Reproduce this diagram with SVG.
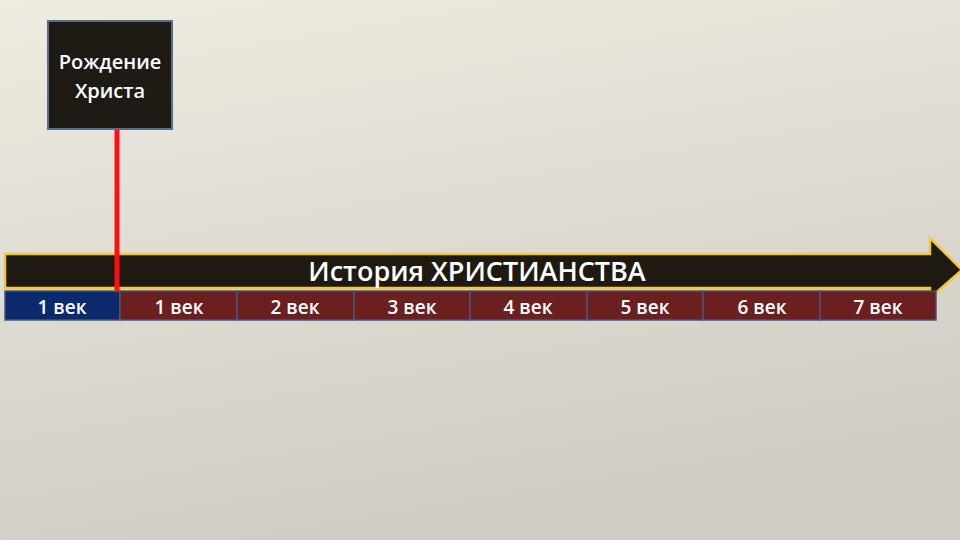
<svg xmlns="http://www.w3.org/2000/svg" width="960" height="540" viewBox="0 0 960 540">
<defs>
<linearGradient id="bg" x1="0" y1="0" x2="0.3" y2="1">
<stop offset="0" stop-color="#eeebe1"/>
<stop offset="1" stop-color="#d0cdc5"/>
</linearGradient>
<style>
.cell{fill:#6b1f1f;stroke:#4a5478;stroke-width:1.5}
.lbl{font-family:"Open Sans","Noto Sans",sans-serif;font-size:19px;font-weight:600;fill:#ffffff;text-anchor:middle}
.box{font-family:"Open Sans","Noto Sans",sans-serif;font-size:20px;font-weight:600;fill:#ffffff;text-anchor:middle}
</style>
</defs>
<rect width="960" height="540" fill="url(#bg)"/>
<g id="arrow">
<polygon points="5,254 930,254 930,238 962,270 930,298 930,288 5,288" fill="#1e1911" stroke="#f2c83a" stroke-width="2.5" stroke-linejoin="miter"/>
<text x="477" y="281" font-family="'Open Sans','Noto Sans',sans-serif" font-size="27" font-weight="600" fill="#ffffff" text-anchor="middle">История ХРИСТИАНСТВА</text>
</g>
<g id="cells">
<rect x="5" y="291" width="115" height="29" fill="#0b2a6e" stroke="#4a5478" stroke-width="1.5"/>
<text class="lbl" x="62" y="314">1 век</text>
<rect class="cell" x="120" y="291" width="117" height="29"/>
<text class="lbl" x="179" y="314">1 век</text>
<rect class="cell" x="237" y="291" width="117" height="29"/>
<text class="lbl" x="295" y="314">2 век</text>
<rect class="cell" x="354" y="291" width="116" height="29"/>
<text class="lbl" x="412" y="314">3 век</text>
<rect class="cell" x="470" y="291" width="117" height="29"/>
<text class="lbl" x="528" y="314">4 век</text>
<rect class="cell" x="587" y="291" width="116" height="29"/>
<text class="lbl" x="645" y="314">5 век</text>
<rect class="cell" x="703" y="291" width="117" height="29"/>
<text class="lbl" x="762" y="314">6 век</text>
<rect class="cell" x="820" y="291" width="116" height="29"/>
<text class="lbl" x="878" y="314">7 век</text>
</g>
<g id="connectors">
<line x1="117" y1="129" x2="117" y2="292" stroke="#ff1010" stroke-width="5"/>
</g>
<g id="birth">
<rect x="48" y="21" width="124" height="108" fill="#1e1a14" stroke="#5a6e8a" stroke-width="2"/>
<text class="box" x="110" y="69">Рождение</text>
<text class="box" x="110" y="98">Христа</text>
</g>
</svg>
